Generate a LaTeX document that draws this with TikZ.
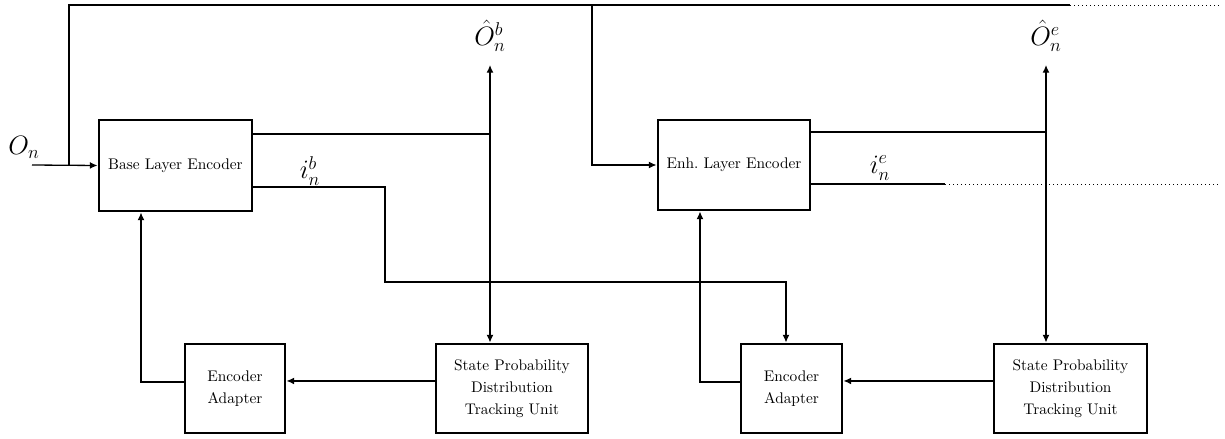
\documentclass[tikz,border=0pt]{standalone}
\usetikzlibrary{arrows.meta,calc}
\begin{document}
\begin{tikzpicture}[x=0.65pt,y=-0.65pt,
  blk/.style={draw,line width=1.9pt,align=center,inner sep=0pt,font=\normalsize},
  wire/.style={line width=0.85pt},
  arr/.style={wire,-{Latex[length=5pt,width=4.5pt]}},
  dots/.style={line width=0.6pt,dotted},
  lbl/.style={font=\fontsize{17}{20}\selectfont,inner sep=0pt}]
\useasboundingbox (0,0) rectangle (1225,439);
% blocks
\node[blk,minimum width=99.45pt,minimum height=59.15pt] (base) at (175.5,165.5) {Base Layer Encoder};
\node[blk,minimum width=98.8pt,minimum height=58.5pt] (enh) at (734,165) {Enh.\ Layer Encoder};
\node[blk,minimum width=65pt,minimum height=57.85pt] (ea1) at (235,388.5) {Encoder\\[2.3pt]Adapter};
\node[blk,minimum width=98.8pt,minimum height=57.85pt] (sp1) at (512,388.5) {State Probability\\[2.3pt]Distribution\\[2.3pt]Tracking Unit};
\node[blk,minimum width=65.65pt,minimum height=57.85pt] (ea2) at (791.5,388.5) {Encoder\\[2.3pt]Adapter};
\node[blk,minimum width=99.45pt,minimum height=57.85pt] (sp2) at (1070.5,388.5) {State Probability\\[2.3pt]Distribution\\[2.3pt]Tracking Unit};
% coordinates
\coordinate (in) at (32,165);
\coordinate (j1) at (69,165);
\coordinate (t1) at (69,5);
\coordinate (t2) at (592,5);
\coordinate (t3) at (1070,5);
\coordinate (t4) at (1220,5);
\coordinate (j2) at (592,165);
\coordinate (ob) at (490,134);
\coordinate (obtop) at (490,65);
\coordinate (ib1) at (385,187);
\coordinate (ib2) at (385,282);
\coordinate (ib3) at (786,282);
\coordinate (oe) at (1046,132);
\coordinate (oetop) at (1046,65);
\coordinate (ie1) at (945,184);
\coordinate (ie2) at (1220,184);
\coordinate (fb1) at (141,382);
\coordinate (fb2) at (700,382);
% labels
\node[lbl] (lOn) at (24,147) {$O_n$};
\node[lbl,anchor=south] (lOb) at ($(obtop)+(0,-13)$) {$\hat{O}_n^b$};
\node[lbl,anchor=south] (lOe) at ($(oetop)+(0,-13)$) {$\hat{O}_n^e$};
\node[lbl] (lib) at (310,171) {$i_n^b$};
\node[lbl] (lie) at (880,168) {$i_n^e$};
% connectors
\draw[arr] (in) -- (base.west);
\draw[wire] (j1) -- (t1) -- (t3);
\draw[dots] (t3) -- (t4);
\draw[arr] (t2) -- (j2) -- (enh.west);
\draw[wire] (base.east |- ob) -- (ob);
\draw[wire,{Latex[length=5pt,width=4.5pt]}-{Latex[length=5pt,width=4.5pt]}] (obtop) -- (obtop |- sp1.north);
\draw[arr] (base.east |- ib1) -- (ib1) -- (ib2) -- (ib3) -- (ib3 |- ea2.north);
\draw[wire] (enh.east |- oe) -- (oe);
\draw[wire,{Latex[length=5pt,width=4.5pt]}-{Latex[length=5pt,width=4.5pt]}] (oetop) -- (oetop |- sp2.north);
\draw[wire] (enh.east |- ie1) -- (ie1);
\draw[dots] (ie1) -- (ie2);
\draw[arr] ([yshift=4.9pt]sp1.west) -- ([yshift=4.9pt]ea1.east);
\draw[arr] ([yshift=4.9pt]sp2.west) -- ([yshift=4.9pt]ea2.east);
\draw[arr] (ea1.west |- fb1) -- (fb1) -- (fb1 |- base.south);
\draw[arr] (ea2.west |- fb2) -- (fb2) -- (fb2 |- enh.south);
\end{tikzpicture}
\end{document}
